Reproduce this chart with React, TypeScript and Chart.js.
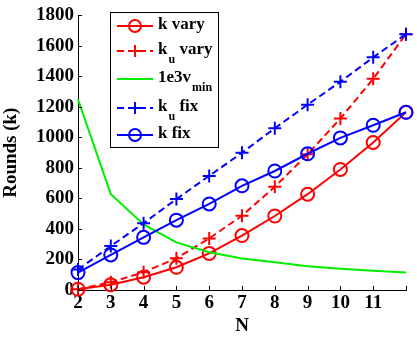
import React, { useEffect, useRef } from "react";
import { Chart, registerables } from "chart.js";

Chart.register(...registerables);

const N = [2, 3, 4, 5, 6, 7, 8, 9, 10, 11, 12];
const kVary = [5, 35, 84, 149, 240, 357, 485, 628, 790, 967, 1165];
const kuVary = [5, 50, 117, 208, 338, 487, 676, 890, 1124, 1384, 1677];
const vMin = [1250, 628, 430, 312, 247, 207, 182, 156, 139, 126, 115];
const kuFix = [134, 288, 438, 596, 748, 900, 1060, 1215, 1365, 1525, 1677];
const kFix = [114, 230, 345, 458, 564, 683, 780, 893, 997, 1080, 1165];
const xTicks = [2, 3, 4, 5, 6, 7, 8, 9, 10, 11];
const yTicks = [0, 200, 400, 600, 800, 1000, 1200, 1400, 1600, 1800];

const FONT = "'Liberation Serif', 'Times New Roman', serif";

type LegendItem = {
  main: string;
  sub?: string;
  tail?: string;
  color: string;
  dash: number[];
  marker: "circle" | "cross" | null;
};

const legendItems: LegendItem[] = [
  { main: "k vary", color: "#ff0000", dash: [], marker: "circle" },
  { main: "k", sub: "u", tail: " vary", color: "#ff0000", dash: [7, 4], marker: "cross" },
  { main: "1e3v", sub: "min", color: "#00ee00", dash: [], marker: null },
  { main: "k", sub: "u", tail: " fix", color: "#0000ff", dash: [7, 4], marker: "cross" },
  { main: "k fix", color: "#0000ff", dash: [], marker: "circle" },
];

const innerTicksPlugin = {
  id: "innerTicks",
  afterDatasetsDraw(chart: any) {
    const { ctx, chartArea, scales } = chart;
    ctx.save();
    ctx.strokeStyle = "#000";
    ctx.lineWidth = 1;
    ctx.beginPath();
    for (const v of yTicks) {
      const y = Math.round(scales.y.getPixelForValue(v)) + 0.5;
      ctx.moveTo(chartArea.left, y);
      ctx.lineTo(chartArea.left + 4, y);
    }
    for (const v of [...xTicks, 12]) {
      const x = Math.round(scales.x.getPixelForValue(v)) + 0.5;
      ctx.moveTo(x, chartArea.bottom);
      ctx.lineTo(x, chartArea.bottom - 4);
    }
    ctx.stroke();
    ctx.restore();
  },
};

const legendPlugin = {
  id: "customLegend",
  afterDraw(chart: any) {
    const { ctx } = chart;
    const bx = 110.5, by = 12.5, bw = 108, bh = 135;
    ctx.save();
    ctx.fillStyle = "#fff";
    ctx.fillRect(bx, by, bw, bh);
    ctx.strokeStyle = "#000";
    ctx.lineWidth = 1;
    ctx.strokeRect(bx, by, bw, bh);
    const rows = [26, 51, 79, 108, 135];
    legendItems.forEach((it, i) => {
      const y = rows[i];
      ctx.strokeStyle = it.color;
      ctx.lineWidth = 2;
      ctx.setLineDash(it.dash);
      ctx.beginPath();
      ctx.moveTo(117, y);
      ctx.lineTo(153, y);
      ctx.stroke();
      ctx.setLineDash([]);
      if (it.marker === "circle") {
        ctx.beginPath();
        ctx.arc(135, y, 6, 0, Math.PI * 2);
        ctx.stroke();
      } else if (it.marker === "cross") {
        ctx.beginPath();
        ctx.moveTo(129, y);
        ctx.lineTo(141, y);
        ctx.moveTo(135, y - 6);
        ctx.lineTo(135, y + 6);
        ctx.stroke();
      }
      ctx.fillStyle = "#000";
      ctx.textBaseline = "middle";
      ctx.textAlign = "left";
      ctx.font = `bold 17px ${FONT}`;
      let x = 158;
      ctx.fillText(it.main, x, y - 1);
      x += ctx.measureText(it.main).width;
      if (it.sub) {
        ctx.font = `bold 12px ${FONT}`;
        ctx.fillText(it.sub, x + 1, y + 9);
        const sw = ctx.measureText(it.sub).width;
        if (it.tail) {
          ctx.font = `bold 17px ${FONT}`;
          ctx.fillText(it.tail, x + sw + 1, y - 1);
        }
      }
    });
    ctx.restore();
  },
};

export default function App() {
  const ref = useRef<HTMLCanvasElement | null>(null);
  useEffect(() => {
    if (!ref.current) return;
    const mk = (label: string, data: number[], color: string, dash: number[], style: any) => ({
      label,
      data: N.map((n, i) => ({ x: n, y: data[i] })),
      borderColor: color,
      backgroundColor: "rgba(0,0,0,0)",
      borderWidth: 2,
      borderDash: dash,
      pointStyle: style || "circle",
      pointRadius: style ? 6.5 : 0,
      pointBorderWidth: 2,
      pointBorderColor: color,
      pointBackgroundColor: "rgba(0,0,0,0)",
      tension: 0,
      fill: false,
      clip: false,
    });
    const chart = new Chart(ref.current, {
      type: "line",
      data: {
        datasets: [
          mk("k fix", kFix, "#0000ff", [], "circle"),
          mk("kᵤ fix", kuFix, "#0000ff", [7, 4], "cross"),
          mk("1e3vₘᵢₙ", vMin, "#00ee00", [], null),
          mk("kᵤ vary", kuVary, "#ff0000", [7, 4], "cross"),
          mk("k vary", kVary, "#ff0000", [], "circle"),
        ] as any,
      },
      options: {
        animation: false,
        responsive: false,
        maintainAspectRatio: false,
        layout: { padding: { top: 13, right: 11, left: 0, bottom: 0 } },
        plugins: { legend: { display: false }, tooltip: { enabled: false } },
        scales: {
          x: {
            type: "linear",
            min: 2,
            max: 12,
            afterFit: (s: any) => { s.height = 49; },
            afterBuildTicks: (s: any) => { s.ticks = xTicks.map((v) => ({ value: v })); },
            ticks: {
              color: "#000",
              padding: 2,
              maxRotation: 0,
              callback: (v: any) => String(v),
              font: { family: FONT, size: 19, weight: "bold" },
            },
            grid: { display: false, drawTicks: false },
            border: { display: true, color: "#000", width: 1 },
            title: {
              display: true,
              text: "N",
              color: "#000",
              padding: { top: 0, bottom: 2 },
              font: { family: FONT, size: 19, weight: "bold" },
            },
          },
          y: {
            type: "linear",
            min: 0,
            max: 1800,
            afterFit: (s: any) => { s.width = 78; },
            afterBuildTicks: (s: any) => { s.ticks = yTicks.map((v) => ({ value: v })); },
            ticks: {
              color: "#000",
              padding: 4,
              callback: (v: any) => String(v),
              font: { family: FONT, size: 19, weight: "bold" },
            },
            grid: { display: false, drawTicks: false },
            border: { display: true, color: "#000", width: 1 },
            title: {
              display: true,
              text: "Rounds (k)",
              color: "#000",
              padding: { top: 0, bottom: 4 },
              font: { family: FONT, size: 19, weight: "bold" },
            },
          },
        },
      } as any,
      plugins: [innerTicksPlugin, legendPlugin],
    });
    return () => chart.destroy();
  }, []);
  return (
    <div style={{ position: "absolute", left: 0, top: 0, width: 417, height: 339, background: "#fff" }}>
      <canvas ref={ref} width={417} height={339} style={{ width: 417, height: 339 }} />
    </div>
  );
}
